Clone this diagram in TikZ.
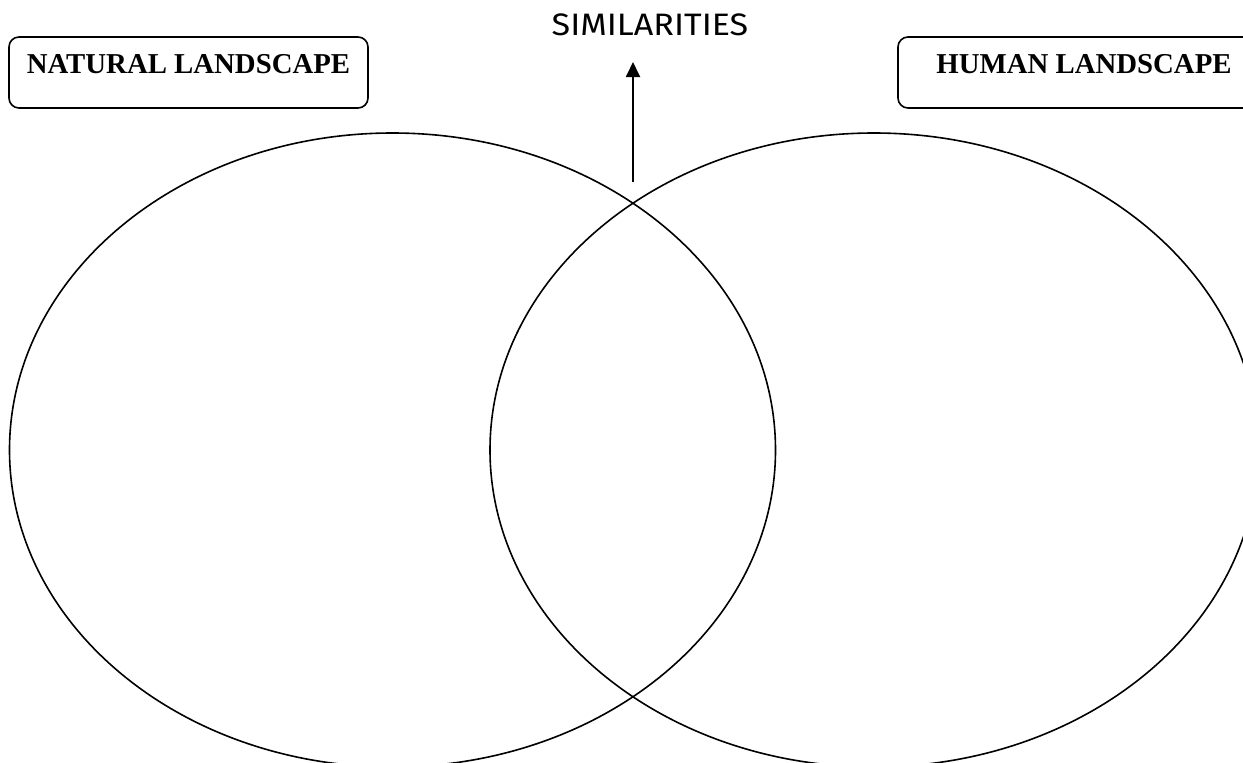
\documentclass[tikz,border=0pt]{standalone}
\usepackage{fontspec}
\setmainfont{Liberation Serif}
\newfontfamily\simfont[FakeStretch=1.1]{Fira Sans}
\usetikzlibrary{shapes.geometric,arrows.meta}
\tikzset{
  venn/.style={draw=black, line width=1.6pt, ellipse, inner sep=0pt},
  titlebox/.style={draw=black, line width=1.6pt, rounded corners=10pt, rectangle, inner sep=0pt},
  boxlabel/.style={font=\fontsize{28.8}{32}\selectfont\bfseries, anchor=base, inner sep=0pt},
  simlabel/.style={font=\simfont\fontsize{31}{34}\selectfont, anchor=base, inner sep=0pt},
  uparrow/.style={line width=1.8pt, -{Triangle[length=15pt,width=14pt]}}
}
\begin{document}
\begin{tikzpicture}[x=1pt,y=-1pt]
\useasboundingbox (0,0) rectangle (1243,763);
\clip (0,0) rectangle (1243,763);
\fill[white] (0,0) rectangle (1243,763);
% ellipses
\node[venn, minimum width=766pt, minimum height=634pt] (left) at (392.5,450) {};
\node[venn, minimum width=768pt, minimum height=634pt] (right) at (874,450) {};
% boxes
\node[titlebox, minimum width=359pt, minimum height=71pt] (nbox) at (188.5,72.5) {};
\node[boxlabel] (ntext) at (188.5,73) {NATURAL LANDSCAPE};
\node[titlebox, minimum width=362pt, minimum height=71pt] (hbox) at (1079,72.5) {};
\node[boxlabel] (htext) at (1084,73) {HUMAN LANDSCAPE};
% similarities
\node[simlabel] (sim) at (650,35) {SIMILARITIES};
\coordinate (astart) at (633,182);
\coordinate (atip) at (633,62);
\draw[uparrow] (astart) -- (atip);
\end{tikzpicture}
\end{document}
